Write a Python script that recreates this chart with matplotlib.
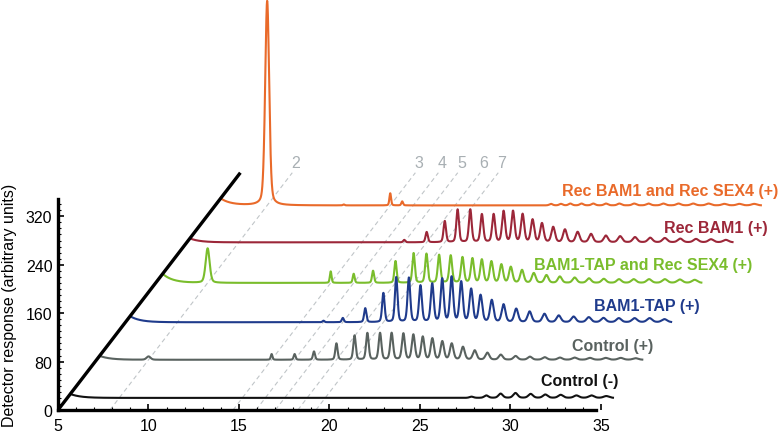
import numpy as np
import matplotlib.pyplot as plt
from matplotlib.ticker import FixedLocator

plt.rcParams['font.family'] = ['Liberation Sans', 'DejaVu Sans']

# retention times (min) of DP2..DP29 on the front (zero) plane
dp_times = [7.87, 14.67, 15.94, 17.01, 18.25, 19.25, 19.96, 20.66, 21.30, 21.95,
            22.50, 23.02, 23.55, 24.10, 24.62, 25.24, 25.89, 26.59, 27.33, 28.15,
            28.94, 29.76, 30.60, 31.41, 32.26, 33.13, 33.96, 34.78]
marked_dp = [2, 3, 4, 5, 6, 7]

names = ["Control (-)", "Control (+)", "BAM1-TAP (+)",
         "BAM1-TAP and Rec SEX4 (+)", "Rec BAM1 (+)", "Rec BAM1 and Rec SEX4 (+)"]
baselines = [20, 83, 145, 210, 277, 338]
start_bump = [6.5, 6.5, 10, 15, 6.5, 11.5]

# peak heights for DP2..DP29
control_neg = [0, 0, 0, 0, 0, 0, 0, 0, 0, 0, 0, 0, 0, 0, 0, 0, 0, 0,
               2, 4, 7, 8, 6.5, 5.5, 5, 4, 4, 3]
control_pos = [5.5, 9.4, 9.4, 13.7, 27, 40, 44, 44, 44, 43, 41, 37.5, 34.7, 30,
               26.4, 21, 15.3, 11.5, 8.3, 6.1, 5, 4.1, 3.5, 3.5, 3, 3, 3, 2.5]
bam1_tap = [0, 0, 2.5, 7, 23, 48, 74, 73, 60, 63, 71, 74, 66, 54, 44, 36, 29, 22,
            17.5, 13.7, 11, 9.2, 8.2, 7, 6.6, 6.6, 6.6, 5]
bam1_tap_sex4 = [57, 19, 15, 20, 36, 49, 48, 46, 45, 42, 40, 38, 35, 30, 26, 21, 16,
                 12.7, 10.4, 8.7, 7.4, 6.6, 6, 6, 6, 6, 5.5, 5]
rec_bam1 = [0, 0, 0, 4, 17, 35, 54, 54, 46, 46, 51, 51, 46, 37, 31, 25, 21, 17,
            13.7, 11, 10, 8.5, 7.5, 7, 6, 5.5, 5, 4]
rec_bam1_sex4 = [338, 20, 0, 0, 0, 0, 0, 0, 0, 0, 0, 0, 2.5, 2.5, 3, 3, 3, 3, 3, 3,
                 3, 3, 3, 3, 3, 2.5, 2.5, 2.5]
heights = [control_neg, control_pos, bam1_tap, bam1_tap_sex4, rec_bam1, rec_bam1_sex4]

# other small peaks (time, height) per trace
extra_peaks = [[], [], [], [], [], [(12.1, 1.5), (15.33, 6.6)]]

colors = ["#111111", "#59625f", "#1f3b8c", "#7abd2c", "#9c2739", "#e96a2a"]
label_pos = [(35.94, 48), (37.87, 107), (40.47, 172), (43.34, 241), (44.23, 302), (44.78, 363)]

k = 0.0257      # depth shift (min per response unit)
t_end = 35.15
tau = 0.55


def shape(t, t0, w):
    d = (t - t0) / w
    return 0.7 * np.exp(-np.log(2) * d ** 2) + 0.3 / (1 + d ** 2)


def half_width(t0):
    return 0.055 + 0.006 * max(t0 - 15, 0) if t0 > 10 else 0.13


fig = plt.figure(figsize=(7.8, 4.35), dpi=100)
ax = fig.add_axes([58 / 780, 24 / 435, 722 / 780, 411 / 435])
ax.set_xlim(5, 44.89)
ax.set_ylim(0, 679)

# guide lines for DP2..DP7
for dp in marked_dp:
    t0 = dp_times[dp - 2]
    ax.plot([t0, t0 + k * 392], [0, 392], color="#c0c5c8", lw=0.8,
            dashes=(4, 3), zorder=1)
    ax.text(t0 + k * 392 + 0.2, 409, str(dp), color="#a8afb3", fontsize=11.5,
            ha="center", va="center")

# depth axis
ax.plot([5, 5 + k * 392], [0, 392], color="black", lw=2.4, zorder=20,
        solid_capstyle="butt")

t = np.linspace(5, 36, 8000)
for i in range(len(names)):
    t_start = 5 + k * start_bump[i]
    tt = t[(t >= t_start) & (t <= t_end)]
    sig = start_bump[i] * np.exp(-(tt - t_start) / tau)
    for t0, h in zip(dp_times, heights[i]):
        if h > 0:
            sig = sig + h * shape(tt, t0, half_width(t0))
    for t0, h in extra_peaks[i]:
        sig = sig + h * shape(tt, t0, half_width(t0))
    ax.plot(tt + k * baselines[i], sig + baselines[i], color=colors[i], lw=1.5,
            zorder=10 - i)
    lx, ly = label_pos[i]
    ax.text(lx, ly, names[i], color=colors[i], fontsize=11.5, fontweight="bold",
            ha="right", va="center")

for s in ["top", "right"]:
    ax.spines[s].set_visible(False)
ax.spines["left"].set_bounds(0, 348)
ax.spines["bottom"].set_bounds(5, 34.7)
ax.spines["left"].set_linewidth(2.4)
ax.spines["bottom"].set_linewidth(2.4)

ax.set_xticks([5, 10, 15, 20, 25, 30, 35])
ax.set_yticks([0, 80, 160, 240, 320])
ax.xaxis.set_minor_locator(FixedLocator(np.arange(6, 35, 1)))
ax.yaxis.set_minor_locator(FixedLocator(np.arange(10, 350, 10)))
ax.tick_params(which="major", direction="in", length=4, width=1.2, labelsize=11.5)
ax.tick_params(axis="x", which="major", pad=6)
ax.tick_params(axis="y", which="major", pad=4)
ax.tick_params(which="minor", direction="in", length=2.5, width=0.8)

ax.set_ylabel("Detector response (arbitrary units)", fontsize=11.5)
ax.yaxis.set_label_coords(-0.057, 174 / 679)

fig.savefig("out.png", dpi=100)
